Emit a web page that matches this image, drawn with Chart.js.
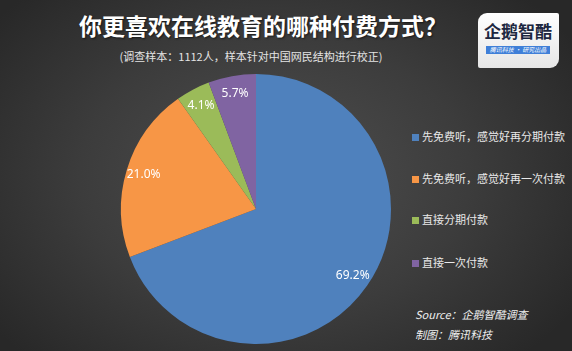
<!DOCTYPE html>
<html>
<head>
<meta charset="utf-8">
<script src="https://cdn.jsdelivr.net/npm/chart.js@4"></script>
<style>
  html, body { margin: 0; padding: 0; }
  body {
    width: 572px; height: 351px; overflow: hidden; position: relative;
    background: radial-gradient(ellipse 62% 72% at 48% 50%, #4f4f4f 0%, #3c3c3c 55%, #282828 100%);
    font-family: "Noto Sans CJK SC", "Noto Sans", sans-serif;
  }
  #title {
    position: absolute; left: 8px; width: 510px; top: 10px; text-align: center;
    color: #fff; font-size: 23px; font-weight: bold; line-height: 30px;
    text-shadow: 1px 1px 2px rgba(0,0,0,0.6);
  }
  #sub {
    position: absolute; left: 0; width: 502px; top: 48px; text-align: center;
    color: #e4e4e4; font-size: 11px; line-height: 16px;
  }
  #logo {
    position: absolute; left: 478px; top: 13px; width: 81px; height: 55px;
    background: linear-gradient(#ffffff, #e6e6e6);
    border-radius: 9px 2px 9px 2px;
  }
  #logo .name {
    position: absolute; left: 6px; top: 7px; font-size: 17px; font-weight: bold;
    color: #1c2740; line-height: 22px;
  }
  #logo .bar {
    position: absolute; left: 8px; top: 33px; width: 64px; height: 8px;
    background: #3f7fd8; color: #fff; font-size: 6px; line-height: 8px;
    text-align: center; font-style: italic;
  }
  #legend { position: absolute; left: 412px; top: 0; }
  .item { position: absolute; white-space: nowrap; color: #e8e8e8; font-size: 11px; line-height: 14px; }
  .item i { display: inline-block; width: 7px; height: 7px; margin-right: 3px; vertical-align: 0px; }
  #source {
    position: absolute; left: 415px; top: 304px; color: #f0f0f0;
    font-size: 11px; font-style: italic; line-height: 20px;
  }
  #c { position: absolute; left: 0; top: 0; }
</style>
</head>
<body>
<div id="title">你更喜欢在线教育的哪种付费方式？</div>
<div id="sub">(调查样本：1112人，样本针对中国网民结构进行校正)</div>
<div id="logo"><div class="name">企鹅智酷</div><div class="bar">腾讯科技 · 研究出品</div></div>
<div id="legend"></div>
<div id="source">Source：企鹅智酷调查<br>制图：腾讯科技</div>
<canvas id="c" width="572" height="351"></canvas>
<script>
const categories = ['先免费听，感觉好再分期付款', '先免费听，感觉好再一次付款', '直接分期付款', '直接一次付款'];
const values = [69.2, 21.0, 4.1, 5.7];
const colors = ['#4f81bd', '#f79646', '#9bbb59', '#8064a2'];
const legendTops = [129, 171, 212, 255];

// legend
const lg = document.getElementById('legend');
categories.forEach((c, i) => {
  const d = document.createElement('div');
  d.className = 'item';
  d.style.top = legendTops[i] + 'px';
  d.innerHTML = '<i style="background:' + colors[i] + '"></i>' + c;
  lg.appendChild(d);
});

// percentage labels inside the slices
const sliceLabels = {
  id: 'sliceLabels',
  afterDatasetsDraw(chart) {
    const ctx = chart.ctx;
    const meta = chart.getDatasetMeta(0);
    ctx.save();
    ctx.fillStyle = '#ffffff';
    ctx.font = '12px "Noto Sans", "DejaVu Sans", sans-serif';
    ctx.textAlign = 'center';
    ctx.textBaseline = 'middle';
    meta.data.forEach((arc, i) => {
      const p = arc.getProps(['x', 'y', 'startAngle', 'endAngle', 'outerRadius'], true);
      const mid = (p.startAngle + p.endAngle) / 2;
      const r = p.outerRadius * 0.87;
      ctx.fillText(values[i].toFixed(1) + '%', p.x + Math.cos(mid) * r, p.y + Math.sin(mid) * r);
    });
    ctx.restore();
  }
};

new Chart(document.getElementById('c'), {
  type: 'pie',
  data: {
    labels: categories,
    datasets: [{
      data: values,
      backgroundColor: colors,
      borderWidth: 0
    }]
  },
  options: {
    responsive: false,
    animation: false,
    layout: { padding: { left: 121, right: 181, top: 74, bottom: 7 } },
    plugins: {
      legend: { display: false },
      tooltip: { enabled: false }
    }
  },
  plugins: [sliceLabels]
});
</script>
</body>
</html>
